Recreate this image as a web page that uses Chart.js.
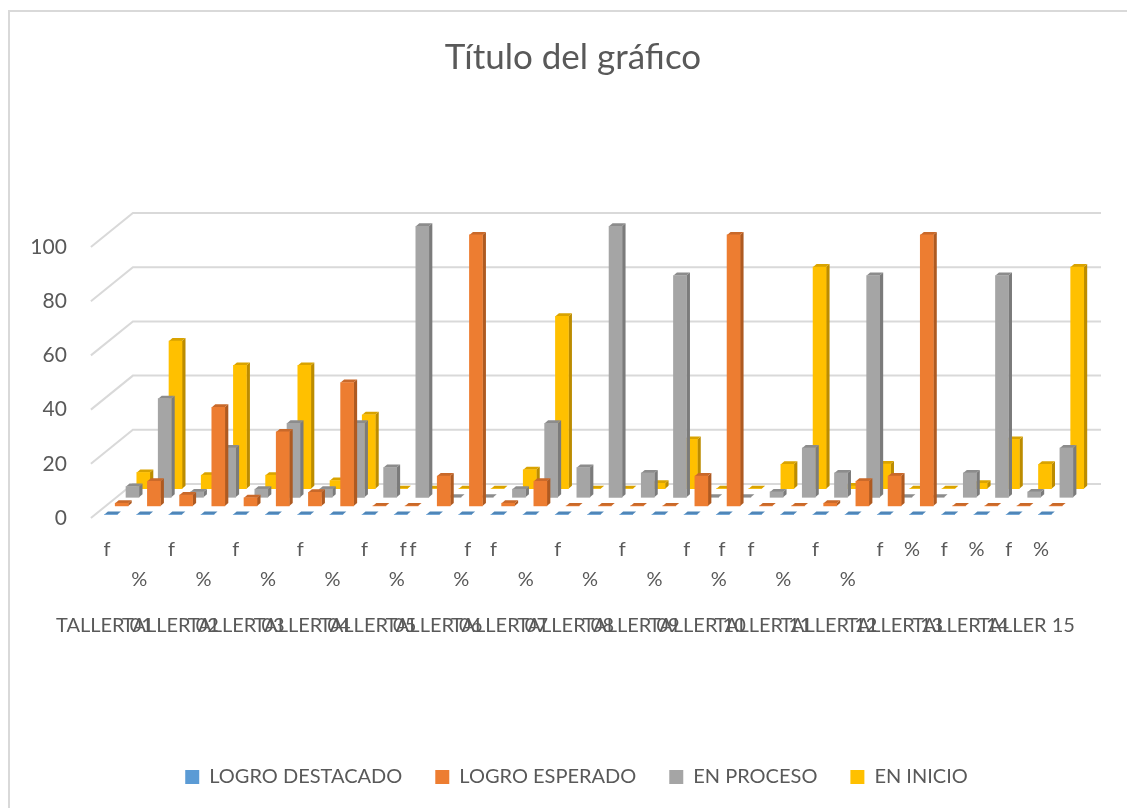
<!DOCTYPE html>
<html>
<head>
<meta charset="utf-8">
<title>Título del gráfico</title>
<script src="https://cdn.jsdelivr.net/npm/chart.js@4"></script>
<style>
  html, body { margin: 0; padding: 0; background: #fff; }
  canvas { display: block; }
</style>
</head>
<body>
<canvas id="myChart" width="1127" height="808"></canvas>
<script>
// one slot per taller: f then %
const categories = [
    'T01 f', 'T01 %', 'T02 f', 'T02 %', 'T03 f', 'T03 %', 'T04 f', 'T04 %', 'T05 f', 'T05 %',
    'T06 f', 'T06 %', 'T07 f', 'T07 %', 'T08 f', 'T08 %', 'T09 f', 'T09 %', 'T10 f', 'T10 %',
    'T11 f', 'T11 %', 'T12 f', 'T12 %', 'T13 f', 'T13 %', 'T14 f', 'T14 %', 'T15 f', 'T15 %'
];
const logroDestacado = [0, 0, 0, 0, 0, 0, 0, 0, 0, 0, 0, 0, 0, 0, 0, 0, 0, 0, 0, 0, 0, 0, 0, 0, 0, 0, 0, 0, 0, 0];
const logroEsperado = [1, 9.1, 4, 36.4, 3, 27.3, 5, 45.5, 0, 0, 11, 100, 1, 9.1, 0, 0, 0, 0, 11, 100, 0, 0, 1, 9.1, 11, 100, 0, 0, 0, 0];
const enProceso = [4, 36.4, 2, 18.2, 3, 27.3, 3, 27.3, 11, 100, 0, 0, 3, 27.3, 11, 100, 9, 81.8, 0, 0, 2, 18.2, 9, 81.8, 0, 0, 9, 81.8, 2, 18.2];
const enInicio = [6, 54.5, 5, 45.5, 5, 45.5, 3, 27.3, 0, 0, 0, 0, 7, 63.6, 0, 0, 2, 18.2, 0, 0, 9, 81.8, 1, 9.1, 0, 0, 2, 18.2, 9, 81.8];

const seriesNames = ['LOGRO DESTACADO', 'LOGRO ESPERADO', 'EN PROCESO', 'EN INICIO'];
const yTicks = [0, 20, 40, 60, 80, 100];
const tallerLabels = [
    'TALLER 01', 'TALLER 02', 'TALLER 03', 'TALLER 04', 'TALLER 05',
    'TALLER 06', 'TALLER 07', 'TALLER 08', 'TALLER 09', 'TALLER 10',
    'TALLER 11', 'TALLER 12', 'TALLER 13', 'TALLER 14', 'TALLER 15'
];
const subLabels = ['f', '%', 'f', '%', 'f', '%', 'f', '%', 'f', '%', 'f', 'f', 'f', '%', 'f', '%', 'f', '%', 'f', '%', 'f', 'f', '%', 'f', '%', 'f', '%', 'f', '%', 'f', '%', 'f', '%'];

// where the labels fall on the category axis, and which row the sub labels sit in
const tallerSlots = [-0.08, 1.97, 4.01, 6.06, 8.1, 10.15, 12.19, 14.24, 16.28, 18.33, 20.37, 22.42, 24.46, 26.51, 28.55];
const subSlots = [0, 1, 2, 3, 4, 5, 6, 7, 8, 9, 9.2, 9.5, 11.2, 11, 12, 13, 14, 15, 16, 17, 18, 19.1, 19, 20, 21, 22, 23, 24, 25, 26, 27, 28, 29];
const subRows = [0, 1, 0, 1, 0, 1, 0, 1, 0, 1, 0, 0, 0, 1, 0, 1, 0, 1, 0, 1, 0, 0, 1, 0, 1, 0, 1, 0, 0, 0, 0, 0, 0];

// faux 3D look, one entry per series, front to back
const fronts = ['#5B9BD5', '#ED7D31', '#A5A5A5', '#FFC000'];
const sides = ['#41719C', '#AE5A21', '#7B7B7B', '#BC8C00'];
const tops = ['#4F86B8', '#C9692A', '#8C8C8C', '#D9A300'];
const depthX = [3.9, 14.7, 25.5, 36.3];
const depthY = [-3.5, -12.1, -20.7, -29.3];
const BAR_DX = 3.5, BAR_DY = 3;
const WALL_DX = 42, WALL_DY = -34, WALL_RIGHT = 1101;
const TEXT = '#595959';

const depthBars = {
    id: 'depthBars',
    afterLayout(chart) {
        // title and legend are not centred on the plot in the original
        const t = chart.titleBlock;
        const dt = 573 - (t.left + t.right) / 2;
        t.left += dt; t.right += dt;
        const l = chart.legend;
        const dl = 576.5 - (l.left + l.right) / 2;
        l.left += dl; l.right += dl;
        l.top = 734;
    },
    beforeDraw(chart) {
        const ctx = chart.ctx;
        ctx.save();
        ctx.fillStyle = '#fff';
        ctx.fillRect(0, 0, chart.width, chart.height);
        ctx.strokeStyle = '#D9D9D9';
        ctx.lineWidth = 2;
        ctx.beginPath();
        ctx.moveTo(9, chart.height);
        ctx.lineTo(9, 11);
        ctx.lineTo(chart.width, 11);
        ctx.stroke();
        ctx.restore();
    },
    beforeDatasetsDraw(chart) {
        // walls: one line per y tick
        const ctx = chart.ctx, y = chart.scales.y, left = chart.chartArea.left;
        ctx.save();
        ctx.strokeStyle = '#D9D9D9';
        ctx.lineWidth = 2;
        yTicks.forEach(v => {
            const py = y.getPixelForValue(v);
            ctx.beginPath();
            ctx.moveTo(left, py);
            ctx.lineTo(left + WALL_DX, py + WALL_DY);
            ctx.lineTo(WALL_RIGHT, py + WALL_DY);
            ctx.stroke();
        });
        ctx.restore();
    },
    beforeDatasetDraw(chart, args) {
        const ctx = chart.ctx, i = args.index;
        ctx.save();
        ctx.translate(depthX[i], depthY[i]);
        args.meta.data.forEach(bar => {
            const p = bar.getProps(['x', 'y', 'base', 'width'], true);
            const r = p.x + p.width / 2, l = p.x - p.width / 2;
            ctx.fillStyle = sides[i];
            ctx.beginPath();
            ctx.moveTo(r, p.y);
            ctx.lineTo(r, p.base);
            ctx.lineTo(r + BAR_DX, p.base - BAR_DY);
            ctx.lineTo(r + BAR_DX, p.y - BAR_DY);
            ctx.closePath();
            ctx.fill();
            ctx.fillStyle = tops[i];
            ctx.beginPath();
            ctx.moveTo(l, p.y);
            ctx.lineTo(r, p.y);
            ctx.lineTo(r + BAR_DX, p.y - BAR_DY);
            ctx.lineTo(l + BAR_DX, p.y - BAR_DY);
            ctx.closePath();
            ctx.fill();
        });
    },
    afterDatasetDraw(chart) {
        chart.ctx.restore();
    },
    afterDraw(chart) {
        const ctx = chart.ctx, x = chart.scales.x;
        ctx.save();
        ctx.fillStyle = TEXT;
        ctx.font = '20px Lato';
        ctx.textAlign = 'center';
        ctx.textBaseline = 'middle';
        subLabels.forEach((s, i) => {
            ctx.fillText(s, x.getPixelForValue(subSlots[i]), subRows[i] ? 580 : 550);
        });
        tallerLabels.forEach((s, i) => {
            ctx.fillText(s, x.getPixelForValue(tallerSlots[i]), 626);
        });
        ctx.restore();
    }
};

const seriesValues = [logroDestacado, logroEsperado, enProceso, enInicio];

const ctx = document.getElementById('myChart').getContext('2d');
const myChart = new Chart(ctx, {
    type: 'bar',
    data: {
        labels: categories,
        datasets: seriesNames.map((name, i) => ({
            label: name,
            data: seriesValues[i],
            backgroundColor: fronts[i],
            borderWidth: 0,
            barThickness: 13,
            grouped: false,
            clip: false
        }))
    },
    options: {
        responsive: false,
        animation: false,
        layout: { padding: { top: 0, right: 70, bottom: 0, left: 0 } },
        scales: {
            x: {
                grid: { display: false },
                border: { display: false },
                ticks: { display: false },
                afterFit(scale) { scale.height = 230; }
            },
            y: {
                min: 0,
                max: 100,
                grid: { display: false },
                border: { display: false },
                afterFit(scale) { scale.width = 90.9; },
                afterBuildTicks(scale) { scale.ticks = yTicks.map(v => ({ value: v })); },
                ticks: {
                    color: TEXT,
                    padding: 16,
                    font: { family: 'Lato', size: 21 }
                }
            }
        },
        plugins: {
            tooltip: { enabled: false },
            title: {
                display: true,
                text: 'Título del gráfico',
                color: TEXT,
                font: { family: 'Lato', size: 35, weight: 'normal' },
                padding: { top: 37, bottom: 168 }
            },
            legend: {
                display: true,
                position: 'bottom',
                maxHeight: 60,
                labels: {
                    color: TEXT,
                    boxWidth: 14,
                    boxHeight: 14,
                    padding: 33,
                    font: { family: 'Lato', size: 20 }
                }
            }
        }
    },
    plugins: [depthBars]
});
</script>
</body>
</html>
